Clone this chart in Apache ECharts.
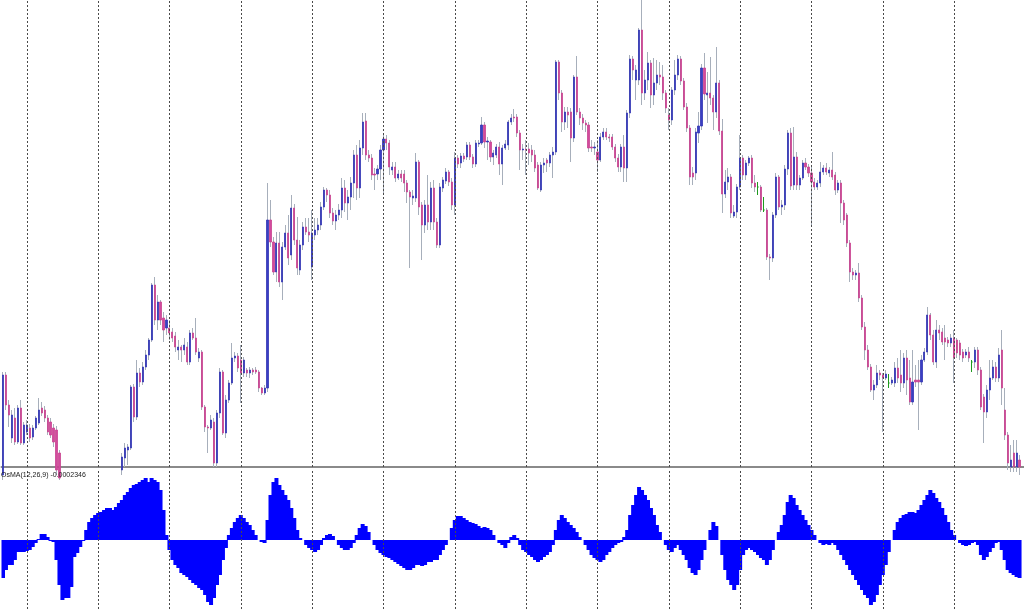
<!DOCTYPE html>
<html><head><meta charset="utf-8">
<script src="https://cdn.jsdelivr.net/npm/echarts@6/dist/echarts.min.js"></script>
<style>html,body{margin:0;padding:0;background:#fff;}#c{width:1024px;height:609px;}</style>
</head><body><div id="c"></div>
<script>
// H1 bars (price units), one entry per bar
const openP = [
5,105,75,42,62,38,72,37,48,52,
43,52,57,72,70,62,58,52,50,27,
2,-10,-25,-30,-22,-35,-30,-24,-30,-20,
-22,-15,-18,-10,-12,-4,-8,0,-3,5,
10,22,30,32,93,63,107,98,113,125,
140,195,160,178,162,152,152,148,144,130,
133,130,133,118,147,142,122,128,73,53,
52,58,17,67,108,47,80,97,122,124,
120,107,110,107,110,110,108,92,87,92,
260,238,208,237,198,233,247,225,272,240,
210,235,253,248,213,245,250,255,273,290,
285,267,259,265,270,292,277,283,297,325,
292,332,359,325,322,306,306,311,330,341,
337,310,313,302,306,306,297,288,282,282,
318,275,255,275,258,292,258,235,292,299,
308,298,275,322,317,324,323,335,323,316,
336,337,355,338,338,323,325,333,316,332,
335,358,363,363,347,330,331,331,330,325,
315,290,315,320,317,325,328,418,387,358,
368,368,342,403,368,362,357,355,333,332,
328,320,343,348,343,343,333,322,313,333,
312,367,421,400,400,450,387,400,417,385,
397,405,403,387,365,360,390,405,421,399,
373,352,307,307,347,354,412,385,387,382,
368,397,349,286,298,303,264,268,293,322,
305,317,322,297,293,293,270,270,223,222,
265,303,273,275,311,347,295,323,295,302,
317,313,307,298,293,297,308,312,307,310,
305,290,297,277,265,237,208,205,207,182,
153,130,113,90,95,107,105,102,97,97,
97,112,105,97,122,102,78,100,100,98,
120,128,165,145,118,150,148,142,140,137,
142,140,137,128,125,128,118,118,130,110,
83,68,90,102,113,102,130,70,45,13,
27,13,20];
const closeP = [
105,75,65,65,38,72,37,55,55,42,
52,62,70,67,62,48,45,38,10,2,
-10,-25,-30,-22,-35,-30,-24,-30,-20,-22,
-15,-18,-10,-12,-4,-8,0,-3,5,8,
23,32,33,93,63,107,98,113,125,140,
195,160,178,160,150,160,147,142,133,133,
130,135,118,147,142,128,128,73,53,52,
60,17,67,108,47,80,97,122,124,112,
107,120,107,110,108,108,92,87,92,260,
238,208,237,198,233,247,222,272,240,212,
235,253,248,245,247,250,255,273,290,285,
267,259,265,270,292,277,283,297,325,292,
332,358,325,322,305,305,311,330,341,337,
313,313,302,306,302,297,288,283,284,318,
273,255,275,258,292,258,235,293,300,308,
298,275,322,316,324,321,335,323,316,337,
337,355,338,339,323,327,333,316,332,336,
358,362,362,347,330,331,330,327,325,312,
292,315,317,317,325,328,418,387,358,368,
365,342,403,368,362,357,355,332,332,333,
320,343,348,343,342,333,322,313,333,312,
367,421,410,410,450,387,400,417,385,397,
405,403,387,372,360,390,405,421,399,373,
352,303,303,348,354,412,386,387,382,368,
397,349,286,298,303,267,268,293,322,305,
317,322,297,293,293,270,270,223,222,265,
303,273,275,311,347,294,323,295,302,317,
313,307,298,293,297,308,312,308,310,303,
290,297,277,260,237,208,205,207,182,153,
130,113,90,95,107,105,102,106,97,100,
112,102,97,122,100,78,98,98,98,120,
128,165,145,118,150,147,138,138,137,142,
122,127,125,122,128,122,118,130,110,73,
68,90,102,113,102,125,92,45,17,20,
13,27,13];
const lowP = [
0,70,53,37,35,36,35,35,45,38,
40,50,55,64,58,45,42,33,5,0,
-15,-30,-38,-35,-40,-42,-33,-35,-32,-26,
-25,-22,-20,-16,-15,-10,-10,-6,-5,2,
5,13,15,30,58,60,93,95,110,120,
138,155,150,155,138,145,140,138,128,120,
118,125,115,115,140,125,118,70,48,27,
50,13,13,62,45,42,77,95,118,108,
77,103,103,102,105,106,88,85,85,88,
233,205,198,193,180,230,215,220,235,205,
205,230,245,238,200,240,245,250,270,278,
262,255,250,260,262,268,260,270,282,280,
282,325,320,318,300,290,300,300,285,330,
305,305,298,300,298,288,277,212,275,278,
265,220,247,250,250,250,232,232,288,296,
294,270,265,312,312,318,320,320,312,313,
333,335,332,320,318,315,322,305,295,330,
330,355,358,343,310,320,305,315,318,308,
290,288,307,308,313,302,325,380,348,350,
352,318,338,365,355,350,348,328,328,325,
308,318,340,340,338,330,318,308,308,298,
298,362,400,380,395,375,380,390,372,375,
390,395,380,367,350,355,385,400,395,370,
348,295,295,300,337,350,380,357,375,350,
362,345,267,282,290,262,262,262,290,300,
300,314,292,288,285,268,268,220,200,218,
262,270,265,270,305,290,290,290,290,300,
310,303,253,290,290,293,305,305,303,300,
285,287,257,255,233,198,200,200,178,150,
120,110,88,80,92,100,48,100,92,95,
93,97,88,92,85,75,75,93,50,95,
118,125,140,115,112,140,135,120,133,133,
97,122,120,118,122,118,108,112,105,70,
37,62,80,100,98,98,75,40,10,8,
8,8,5];
const highP = [
108,108,80,70,72,75,80,58,60,56,
55,64,82,78,74,65,62,56,54,30,
5,-5,-20,-18,-20,-25,-20,-20,-16,-14,
-10,-10,-5,-6,0,2,4,5,8,11,
27,37,36,95,96,120,112,118,130,142,
197,203,185,180,168,165,160,152,148,140,
135,142,138,150,152,162,132,130,75,55,
65,62,70,112,110,85,100,137,128,127,
135,123,112,113,112,113,110,93,95,297,
280,243,248,248,238,255,265,285,276,263,
240,258,262,262,270,262,262,278,293,292,
290,272,270,276,302,300,290,303,330,335,
340,367,367,330,326,312,315,335,345,345,
340,318,318,310,310,310,300,290,290,327,
320,278,280,305,298,300,262,297,303,312,
310,302,328,325,327,327,338,338,326,340,
340,363,358,343,340,330,336,338,335,340,
360,366,371,366,350,336,340,337,335,330,
318,318,322,322,328,333,420,420,390,373,
373,372,405,424,372,366,360,358,340,338,
340,347,352,352,346,346,336,326,336,345,
370,425,424,415,452,480,410,428,420,422,
420,418,415,390,372,393,420,425,424,402,
377,355,313,352,368,416,427,408,423,385,
433,400,361,310,312,306,275,296,345,325,
320,324,325,305,298,295,283,272,226,268,
307,305,280,315,350,352,353,328,305,320,
322,316,315,302,300,318,315,317,313,328,
308,300,300,280,267,240,212,210,217,185,
158,135,116,100,115,110,107,110,106,103,
118,122,130,127,130,120,130,115,120,125,
132,173,167,150,160,155,152,155,143,146,
150,142,140,131,131,133,120,133,133,113,
86,95,120,120,118,132,150,92,48,35,
40,40,25];
// OsMA(12,26,9) histogram, one value per bar (scaled units)
const osma = [
-38,-30,-25,-25,-20,-12,-12,-12,-11,-10,
-7,-3,1,6,6,3,-1,-2,-20,-45,
-60,-58,-58,-47,-17,-13,-7,-1,10,18,
22,25,27,28,30,32,32,30,33,37,
40,45,48,52,55,56,58,60,62,58,
62,60,58,50,30,5,-10,-20,-25,-28,
-33,-35,-37,-40,-43,-45,-48,-50,-55,-62,
-65,-58,-45,-35,-20,-8,5,12,18,22,
25,22,18,15,10,5,0,-2,-3,20,
45,58,62,55,50,45,40,32,22,10,
2,0,-5,-8,-10,-12,-10,-5,2,5,
6,4,0,-5,-8,-10,-10,-8,-3,5,
12,16,14,8,0,-5,-10,-13,-15,-17,
-18,-20,-22,-24,-26,-28,-30,-30,-28,-25,
-25,-26,-25,-22,-22,-20,-20,-15,-10,-5,
0,12,20,24,24,22,20,18,17,16,
14,12,13,12,10,5,0,-3,-5,-8,
-3,3,5,2,-5,-10,-12,-15,-17,-20,
-22,-20,-17,-15,-12,-5,10,20,25,22,
18,15,12,8,3,0,-5,-10,-15,-18,
-20,-22,-20,-15,-12,-8,-5,-3,-2,3,
10,25,35,45,53,50,45,40,32,25,
15,8,0,-5,-10,-12,-8,-5,-10,-15,
-20,-28,-33,-35,-30,-20,-10,0,10,18,
14,0,-15,-30,-40,-45,-50,-45,-30,-15,
-10,-8,-10,-12,-15,-18,-20,-25,-20,-10,
0,8,15,25,38,45,42,35,30,25,
20,15,10,5,0,-3,-5,-4,-5,-3,
-5,-10,-15,-20,-25,-30,-35,-40,-45,-50,
-55,-58,-65,-62,-55,-45,-35,-25,-12,0,
10,18,22,25,26,28,28,27,30,35,
40,45,50,47,42,38,32,25,18,10,
5,0,-3,-5,-6,-5,-3,-2,-5,-15,
-20,-17,-12,-8,-3,-2,-10,-20,-30,-33,
-35,-37,-38];
// bars where a new day starts (vertical dotted separators)
const dayStartBars = [8,32,56,80,104,128,152,176,200,224,248,272,296,320];
const indicatorLabel = 'OsMA(12,26,9) -0.0002346';

const N = 344;
const categories = Array.from({length: N}, (_, i) => 'bar' + i);
const wickData = openP.map((o, i) => [o, closeP[i], lowP[i], highP[i]]);
const bodyData = openP.map((o, i) => [o, closeP[i], Math.min(o, closeP[i]), Math.max(o, closeP[i])]);

function vlines() {
  return {
    silent: true, symbol: ['none', 'none'], label: {show: false},
    lineStyle: {color: '#4a4a4a', type: [2, 2], width: 1},
    emphasis: {disabled: true},
    data: dayStartBars.map(b => ({xAxis: b})),
    animation: false
  };
}
const hiddenCat = (g) => ({
  type: 'category', data: categories, gridIndex: g, boundaryGap: true,
  axisTick: {show: false}, axisLabel: {show: false}, splitLine: {show: false}
});

const chart = echarts.init(document.getElementById('c'), null, {renderer: 'canvas'});
chart.setOption({
  animation: false,
  backgroundColor: '#ffffff',
  title: {
    text: indicatorLabel, left: 1, top: 472, padding: 0,
    textStyle: {fontSize: 7, fontFamily: 'Liberation Sans', color: '#1a1a1a', fontWeight: 'normal'}
  },
  grid: [
    {left: 1.5, right: -1.6, top: 0, height: 467},
    {left: 1.5, right: -1.6, top: 469, height: 140}
  ],
  xAxis: [
    Object.assign(hiddenCat(0), {axisLine: {show: true, onZero: false, lineStyle: {color: '#8a8a8a', width: 2}}}),
    Object.assign(hiddenCat(1), {axisLine: {show: false}})
  ],
  yAxis: [
    {type: 'value', gridIndex: 0, min: 13, max: 480, show: false, splitLine: {show: false}},
    {type: 'value', gridIndex: 1, min: -69, max: 71, show: false, splitLine: {show: false}}
  ],
  series: [
    {
      type: 'candlestick', name: 'wicks', xAxisIndex: 0, yAxisIndex: 0,
      data: wickData, barWidth: 1, clip: true,
      itemStyle: {color: '#a7afbb', color0: '#a7afbb', borderColor: '#a7afbb', borderColor0: '#a7afbb', borderColorDoji: '#1f9a1f', borderWidth: 1},
      markLine: vlines()
    },
    {
      type: 'candlestick', name: 'bodies', xAxisIndex: 0, yAxisIndex: 0,
      data: bodyData, barWidth: 1.6, clip: true,
      itemStyle: {color: '#3a3ec4', color0: '#d24a9e', borderColor: '#3236b4', borderColor0: '#c8428f', borderColorDoji: '#1f9a1f', borderWidth: 0.8}
    },
    {
      type: 'bar', name: 'OsMA', xAxisIndex: 1, yAxisIndex: 1,
      data: osma, barWidth: 4,
      itemStyle: {color: '#0000ff'},
      markLine: vlines()
    }
  ]
});
</script>
</body></html>
